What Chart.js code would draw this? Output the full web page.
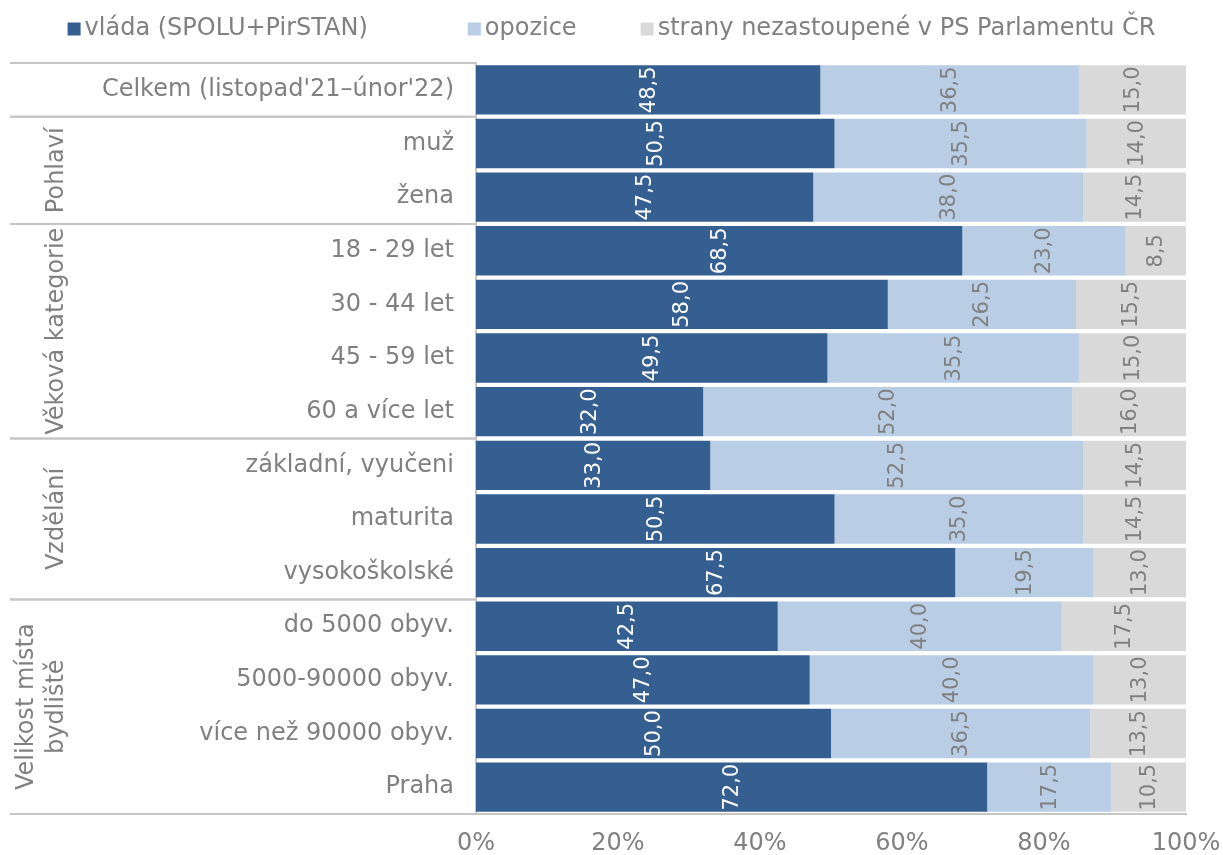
<!DOCTYPE html>
<html lang="cs">
<head>
<meta charset="UTF-8">
<title>Vláda / opozice</title>
<script src="https://cdn.jsdelivr.net/npm/chart.js"></script>
<style>
    body {
        margin: 0;
        padding: 0;
        background: #ffffff;
    }
    .chart-container {
        position: relative;
        width: 1223px;
        height: 855px;
    }
</style>
</head>
<body>
<div class="chart-container">
    <canvas id="chart"></canvas>
</div>
<script>
    const categories = [
        "Celkem (listopad'21–únor'22)",
        'muž', 'žena',
        '18 - 29 let', '30 - 44 let', '45 - 59 let', '60 a více let',
        'základní, vyučeni', 'maturita', 'vysokoškolské',
        'do 5000 obyv.', '5000-90000 obyv.', 'více než 90000 obyv.', 'Praha'
    ];
    const vlada = [48.5, 50.5, 47.5, 68.5, 58.0, 49.5, 32.0, 33.0, 50.5, 67.5, 42.5, 47.0, 50.0, 72.0];
    const opozice = [36.5, 35.5, 38.0, 23.0, 26.5, 35.5, 52.0, 52.5, 35.0, 19.5, 40.0, 40.0, 36.5, 17.5];
    const nezastoupene = [15.0, 14.0, 14.5, 8.5, 15.5, 15.0, 16.0, 14.5, 14.5, 13.0, 17.5, 13.0, 13.5, 10.5];
    const seriesNames = ['vláda (SPOLU+PirSTAN)', 'opozice', 'strany nezastoupené v PS Parlamentu ČR'];

    // skupiny: [popisek (řádky), první index, poslední index]
    const groups = [
        [[], 0, 0],
        [['Pohlaví'], 1, 2],
        [['Věková kategorie'], 3, 6],
        [['Vzdělání'], 7, 9],
        [['Velikost místa', 'bydliště'], 10, 13]
    ];

    const FONT = "'DejaVu Sans', Verdana, sans-serif";
    const GREY = '#808080';
    const LINE = '#C6C6C6';

    function fmt(v) {
        return v.toFixed(1).replace('.', ',');
    }

    // popisky hodnot otočené o 90°
    const valueLabels = {
        id: 'valueLabels',
        afterDatasetsDraw(chart) {
            const ctx = chart.ctx;
            ctx.save();
            ctx.font = '21px ' + FONT;
            ctx.textAlign = 'center';
            ctx.textBaseline = 'middle';
            chart.data.datasets.forEach((ds, di) => {
                const meta = chart.getDatasetMeta(di);
                meta.data.forEach((bar, i) => {
                    const cx = (bar.x + bar.base) / 2;
                    ctx.fillStyle = di === 0 ? '#ffffff' : GREY;
                    ctx.save();
                    ctx.translate(cx, bar.y);
                    ctx.rotate(-Math.PI / 2);
                    ctx.fillText(fmt(ds.data[i]), 0, 1);
                    ctx.restore();
                });
            });
            ctx.restore();
        }
    };

    // skupinové popisky a dělicí čáry vlevo
    const groupAxis = {
        id: 'groupAxis',
        afterDraw(chart) {
            const ctx = chart.ctx;
            const y = chart.scales.y;
            const left = 10;
            const right = chart.chartArea.left;
            const half = (y.getPixelForValue(1) - y.getPixelForValue(0)) / 2;
            ctx.save();
            ctx.strokeStyle = LINE;
            ctx.lineWidth = 2;
            groups.forEach(g => {
                const top = y.getPixelForValue(g[1]) - half;
                const bottom = y.getPixelForValue(g[2]) + half;
                ctx.beginPath();
                ctx.moveTo(left, top);
                ctx.lineTo(right, top);
                ctx.moveTo(left, bottom);
                ctx.lineTo(right, bottom);
                ctx.stroke();
                const lines = g[0];
                const cy = (top + bottom) / 2;
                ctx.fillStyle = GREY;
                ctx.font = '24px ' + FONT;
                ctx.textAlign = 'center';
                ctx.textBaseline = 'middle';
                lines.forEach((t, k) => {
                    const cx = 57 - (lines.length - 1 - k) * 30;
                    ctx.save();
                    ctx.translate(cx, cy);
                    ctx.rotate(-Math.PI / 2);
                    ctx.fillText(t, 0, 0);
                    ctx.restore();
                });
            });
            ctx.restore();
        }
    };

    // legenda nahoře
    const topLegend = {
        id: 'topLegend',
        afterDraw(chart) {
            const ctx = chart.ctx;
            ctx.save();
            ctx.font = '24px ' + FONT;
            ctx.textBaseline = 'middle';
            const box = 13, gapText = 4;
            const gaps = [100, 64];
            const widths = seriesNames.map(n => box + gapText + ctx.measureText(n).width);
            const total = widths.reduce((a, b) => a + b, 0) + gaps[0] + gaps[1];
            let x = (chart.width - total) / 2;
            const cy = 29;
            chart.data.datasets.forEach((ds, i) => {
                ctx.fillStyle = ds.backgroundColor;
                ctx.fillRect(x, cy - box / 2, box, box);
                ctx.fillStyle = GREY;
                ctx.textAlign = 'left';
                ctx.fillText(seriesNames[i], x + box + gapText, cy);
                x += widths[i] + (gaps[i] || 0);
            });
            ctx.restore();
        }
    };

    new Chart(document.getElementById('chart'), {
        type: 'bar',
        data: {
            labels: categories,
            datasets: [
                { label: seriesNames[0], data: vlada, backgroundColor: '#365F91' },
                { label: seriesNames[1], data: opozice, backgroundColor: '#B9CDE5' },
                { label: seriesNames[2], data: nezastoupene, backgroundColor: '#D9D9D9' }
            ]
        },
        options: {
            indexAxis: 'y',
            responsive: true,
            maintainAspectRatio: false,
            animation: false,
            layout: {
                padding: { left: 10, right: 37, top: 63, bottom: 0 }
            },
            datasets: {
                bar: {
                    barPercentage: 1,
                    categoryPercentage: 0.92
                }
            },
            scales: {
                x: {
                    stacked: true,
                    min: 0,
                    max: 100,
                    grid: { display: false, drawTicks: false },
                    border: { display: true, color: LINE, width: 2 },
                    ticks: {
                        stepSize: 20,
                        padding: 15,
                        color: GREY,
                        font: { family: FONT, size: 24 },
                        callback: v => v + '%'
                    },
                    afterFit(scale) {
                        scale.height = 41;
                        scale.paddingLeft = 0;
                        scale.paddingRight = 0;
                    }
                },
                y: {
                    stacked: true,
                    grid: { display: false, drawTicks: false },
                    border: { display: true, color: LINE, width: 2 },
                    ticks: {
                        padding: 22,
                        color: GREY,
                        font: { family: FONT, size: 24 },
                        autoSkip: false
                    },
                    afterFit(scale) { scale.width = 466; }
                }
            },
            plugins: {
                legend: { display: false },
                tooltip: { enabled: false }
            }
        },
        plugins: [valueLabels, groupAxis, topLegend]
    });
</script>
</body>
</html>
